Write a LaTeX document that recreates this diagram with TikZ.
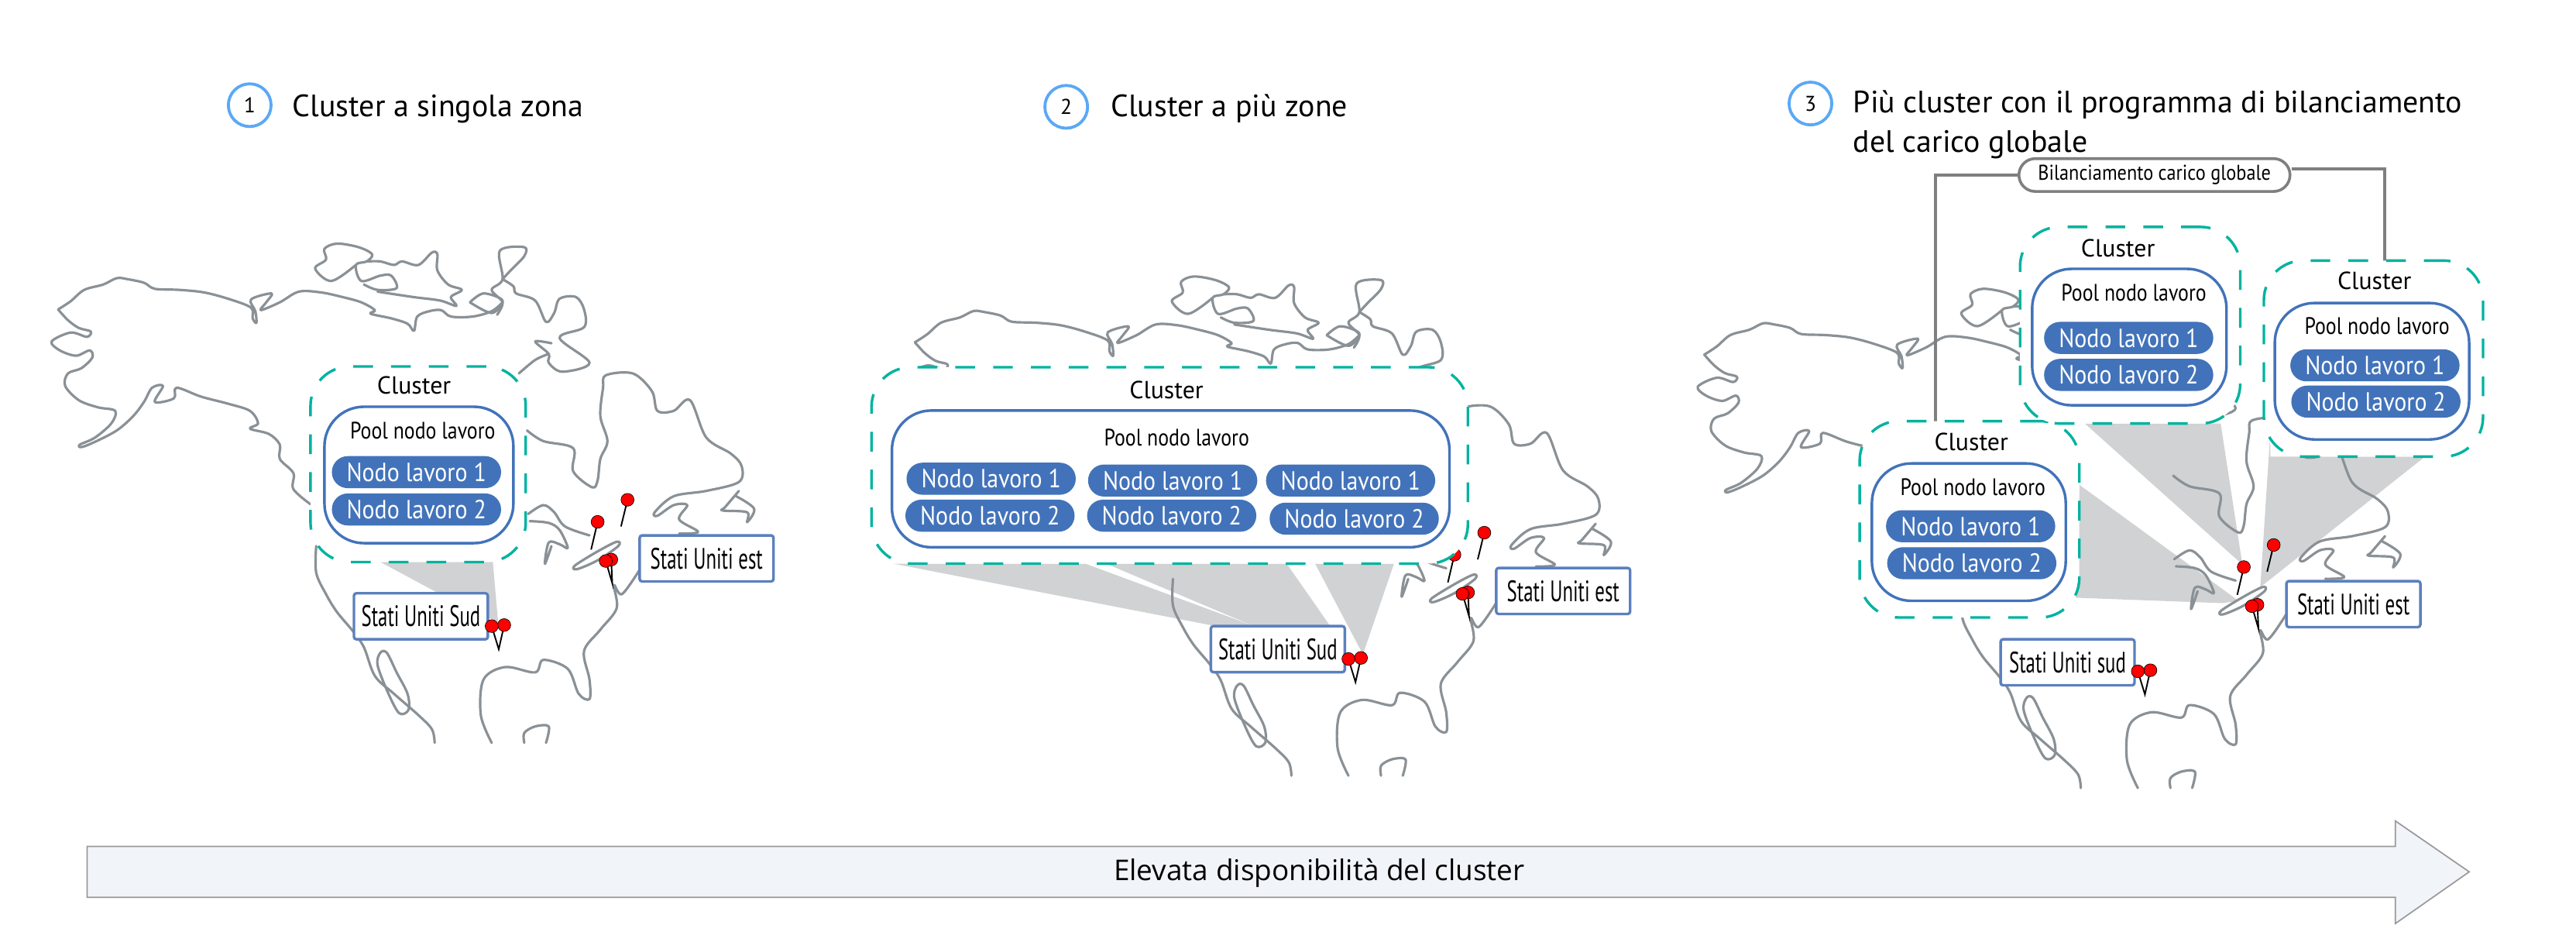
\documentclass[tikz,border=0pt]{standalone}
\usepackage{fontspec}
\setmainfont{PT Sans}
\newfontfamily\narrowfont[FakeStretch=.88]{PT Sans}
\newfontfamily\poolfont[FakeStretch=.84]{PT Sans}
\newfontfamily\tagfont[FakeStretch=.65]{PT Sans}
\newfontfamily\plainfont{Open Sans}
\definecolor{tealdash}{HTML}{00B39F}
\definecolor{poolblue}{HTML}{4273BA}
\definecolor{tagblue}{HTML}{5C80BE}
\definecolor{wedgegray}{HTML}{D0D2D3}
\definecolor{mapgray}{HTML}{8A9196}
\definecolor{ringblue}{HTML}{5BA8F5}
\definecolor{linkgray}{HTML}{7F7F7F}
\definecolor{arrowfill}{HTML}{F1F4F8}
\tikzset{
  mapline/.style={draw=mapgray, line width=1.5pt, line join=round, line cap=round},
  clusterbox/.style={draw=tealdash, fill=white, line width=1.6pt, rounded corners=24pt, dash pattern=on 12pt off 11pt},
  poolbox/.style={draw=poolblue, fill=white, line width=1.6pt, rounded corners=24pt},
  workerpill/.style={fill=poolblue, text=white, rounded corners=9.7pt, minimum width=103pt, minimum height=19.5pt, inner sep=0pt, font=\narrowfont\fontsize{16}{16}\selectfont},
  regiontag/.style={draw=tagblue, fill=white, line width=1.6pt, rounded corners=1.5pt, minimum width=81.5pt, minimum height=28pt, inner sep=0pt, font=\tagfont\fontsize{18}{18}\selectfont},
  clustertext/.style={inner sep=0pt, font=\fontsize{15}{15}\selectfont},
  pooltext/.style={inner sep=0pt, font=\poolfont\fontsize{14.5}{15}\selectfont},
  steptext/.style={anchor=base west, inner sep=0pt, font=\fontsize{18.8}{24}\selectfont},
  stepring/.style={circle, draw=ringblue, line width=1.8pt, minimum size=26pt, inner sep=0pt, font=\fontsize{13}{13}\selectfont},
  pinhead/.style={fill=red, draw=black, line width=.3pt},
  wedge/.style={fill=wedgegray}
}
% North America, drawn in its own small units
\newcommand{\landmap}{
\draw[mapline] plot[smooth,tension=.55] coordinates {(107,260) (130,237) (155,205) (190,190) (215,172) (235,175) (265,185) (285,202) (330,205) (375,212) (420,230) (462,255) (465,285) (472,298) (470,265) (462,232) (500,215) (490,240) (480,262) (515,240) (550,210) (590,212) (630,225) (665,240) (690,262) (682,272) (720,285) (750,300) (762,320) (768,280) (790,265) (812,262) (830,280) (870,280) (905,265) (925,240)};
\draw[mapline] plot[smooth,tension=.55] coordinates {(107,260) (125,290) (145,312) (167,322) (160,337) (130,325) (95,350) (110,375) (140,390) (165,375) (170,395) (150,425) (125,440) (120,475) (145,515) (180,535) (212,545) (205,580) (175,620) (147,640) (150,647) (175,632) (215,600) (245,560) (265,520) (280,480) (300,475) (285,520) (320,510) (325,480) (370,505) (420,525) (460,545) (475,580) (460,595) (495,610) (515,640) (515,680) (540,720) (540,765) (572,808)};
\draw[mapline] plot[smooth,tension=.55] coordinates {(582,925) (582,1000) (600,1060) (620,1110) (650,1165) (670,1210) (690,1290) (725,1340) (770,1400) (795,1440) (800,1478)};
% Baja
\draw[mapline] plot[smooth cycle,tension=.55] coordinates {(700,1225) (712,1225) (730,1280) (750,1340) (752,1385) (735,1395) (715,1340) (695,1260)};
% arctic islands
\draw[mapline] plot[smooth,tension=.55] coordinates {(655,135) (610,180) (580,145) (600,120) (597,90) (620,75) (660,85) (685,105) (675,125) (655,135) (665,180) (700,165) (720,165) (730,200) (695,205) (670,190)};
\draw[mapline] plot[smooth,tension=.55] coordinates {(675,125) (700,125) (725,135) (740,125) (770,135) (795,100) (805,105) (805,150) (825,190) (850,205) (830,225) (840,250) (810,235) (760,225) (695,210)};
\draw[mapline] plot[smooth,tension=.55] coordinates {(865,240) (890,215) (925,235) (905,270) (865,240)};
\draw[mapline] plot[smooth,tension=.55] coordinates {(925,175) (940,150) (965,110) (965,85) (920,95) (925,175) (905,205) (925,240) (915,275)};
\draw[mapline] plot[smooth,tension=.55] coordinates {(925,175) (945,195) (950,215) (985,235) (1005,295) (1020,270) (1030,230) (1060,225) (1075,260) (1075,310) (1030,340) (1085,410) (1035,435) (1010,410) (1010,385) (985,350) (1015,355)};
\draw[mapline] plot[smooth,tension=.55] coordinates {(1010,385) (985,402) (955,440)};
% Hudson Bay and the east
\draw[mapline] plot[smooth,tension=.55] coordinates {(970,600) (1000,630) (1055,650) (1055,715) (1090,760) (1100,740) (1105,680) (1118,630) (1105,560) (1110,480) (1115,445) (1165,440) (1200,490) (1210,545) (1240,545) (1270,515) (1300,620) (1345,665) (1365,700) (1360,745) (1300,770) (1240,785) (1205,830) (1210,840) (1240,810) (1265,810) (1250,850) (1285,885) (1250,890)};
\draw[mapline] plot[smooth,tension=.55] coordinates {(1360,770) (1335,815) (1330,825) (1375,830) (1375,858) (1388,820) (1355,785)};
% the lakes
\draw[mapline] plot[smooth,tension=.55] coordinates {(972,835) (1000,810) (1020,830) (1040,870) (1085,895)};
\draw[mapline] plot[smooth,tension=.55] coordinates {(975,855) (1010,860) (1030,880) (1045,930) (1030,920) (1010,915) (1003,975) (1015,925)};
\draw[mapline] plot[smooth cycle,tension=.55] coordinates {(1135,913) (1100,940) (1058,980) (1062,990) (1100,965) (1138,925)};
% east coast and the gulf
\draw[mapline] plot[smooth,tension=.55] coordinates {(1178,990) (1145,1060) (1130,1035) (1135,1100) (1105,1160) (1075,1220) (1085,1300) (1085,1355) (1065,1340) (1045,1270) (1000,1245) (985,1280) (930,1265) (890,1300) (885,1400) (905,1478)};
\draw[mapline] plot[smooth,tension=.55] coordinates {(965,1478) (965,1450) (985,1432) (1010,1432) (1005,1478)};
% pins
\draw[line width=.9pt] (1155,795) -- (1143,870);
\draw[line width=.9pt] (1100,857) -- (1088,935);
\draw[line width=.9pt] (1115,967) -- (1127,1030) -- (1125,963);
\foreach \pinx/\piny in {1155/795,1100/857,1125/963,1115/967}
  \draw[pinhead] (\pinx,\piny) ellipse [x radius=12, y radius=18];
}
% the two pins in the south stand in front of the tag
\newcommand{\southpins}{
\draw[line width=.9pt] (905,1150) -- (918,1215) -- (928,1147);
\foreach \pinx/\piny in {928/1147,905/1150}
  \draw[pinhead] (\pinx,\piny) ellipse [x radius=12, y radius=18];
}
\begin{document}
\begin{tikzpicture}[x=1pt,y=-1pt]
\useasboundingbox (0,0) rectangle (1568,571);
% The gray areas
\fill[wedge] (231.5,342) -- (300,342) -- (303.2,378.8) -- (267.9,361.5) -- cycle;
\fill[wedge] (543.9,343) -- (660.7,343) -- (761.7,380.4) -- (737,380.4) -- cycle;
\fill[wedge] (673.3,343) -- (783.2,343) -- (809.7,381) -- (761.7,380.4) -- cycle;
\fill[wedge] (800.5,343) -- (848.5,343) -- (829.6,398.2) -- cycle;
\fill[wedge] (1265.7,295) -- (1362.6,365.6) -- (1352.7,367) -- (1263.4,363.7) -- cycle;
\fill[wedge] (1269,257.7) -- (1351.7,257.7) -- (1364.9,343.5) -- cycle;
\fill[wedge] (1381.8,265) -- (1382,277.9) -- (1476,277.9) -- (1375.8,357.3) -- cycle;
% The maps
\begin{scope}[shift={(0,132)},x=.3307pt,y=-.2165pt] \landmap \end{scope}
\begin{scope}[shift={(521.5,152)},x=.3307pt,y=-.2165pt] \landmap \end{scope}
\begin{scope}[shift={(1002,159.5)},x=.3307pt,y=-.2165pt] \landmap \end{scope}
% 1st panel
\node[stepring] (ring1) at (152,64) {1};
\node[steptext] (step1) at (178,71) {Cluster a singola zona};
\node[clusterbox, minimum width=131pt, minimum height=119pt] (cluster1) at (254.5,282.5) {};
\node[poolbox, minimum width=115pt, minimum height=83pt] (pool1) at (255,289) {};
\node[clustertext] (clustertext1) at (252,234.4) {Cluster};
\node[pooltext] (pooltext1) at (257.3,262) {Pool nodo lavoro};
\node[workerpill] (worker1a) at (253.5,287.3) {Nodo lavoro 1};
\node[workerpill] (worker1b) at (253.5,310) {Nodo lavoro 2};
\node[regiontag] (south1) at (256.2,375) {Stati Uniti Sud};
\node[regiontag] (east1) at (430.1,339.8) {Stati Uniti est};
\begin{scope}[shift={(0,132)},x=.3307pt,y=-.2165pt] \southpins \end{scope}
% 2nd panel
\node[stepring] (ring2) at (649,65) {2};
\node[steptext] (step2) at (676,71) {Cluster a più zone};
\node[clusterbox, minimum width=363pt, minimum height=119.5pt] (cluster2) at (712,283.2) {};
\node[poolbox, minimum width=339.4pt, minimum height=83.2pt] (pool2) at (712.6,291.4) {};
\node[clustertext] (clustertext2) at (710,237.2) {Cluster};
\node[pooltext] (pooltext2) at (716.2,266.3) {Pool nodo lavoro};
\node[workerpill] (worker2a) at (603.3,291.3) {Nodo lavoro 1};
\node[workerpill] (worker2b) at (602.6,313.8) {Nodo lavoro 2};
\node[workerpill] (worker2c) at (713.8,292.4) {Nodo lavoro 1};
\node[workerpill] (worker2d) at (713.2,313.8) {Nodo lavoro 2};
\node[workerpill] (worker2e) at (822.1,292.4) {Nodo lavoro 1};
\node[workerpill] (worker2f) at (824.3,315.6) {Nodo lavoro 2};
\node[regiontag] (south2) at (777.8,395) {Stati Uniti Sud};
\node[regiontag] (east2) at (951.5,359.6) {Stati Uniti est};
\begin{scope}[shift={(521.5,152)},x=.3307pt,y=-.2165pt] \southpins \end{scope}
% 3rd panel
\node[stepring] (ring3) at (1102,63) {3};
\node[steptext, align=left] (step3) at (1127.8,92.5) {Più cluster con il programma di bilanciamento\\del carico globale};
\node[draw=linkgray, fill=white, line width=1.7pt, rounded corners=10pt, minimum width=165pt, minimum height=20pt, inner sep=0pt, font=\narrowfont\fontsize{13}{13}\selectfont] (balance) at (1311.4,106.5) {Bilanciamento carico globale};
\coordinate (balanceleft) at (1178,257);
\coordinate (balanceright) at (1451.5,159);
\draw[draw=linkgray, line width=1.7pt] (balance.west) -| (balanceleft);
\draw[draw=linkgray, line width=1.7pt] (balance.east |- 0,102.7) -| (balanceright);
\node[clusterbox, minimum width=133.7pt, minimum height=119.5pt] (cluster3a) at (1198.8,316) {};
\node[poolbox, minimum width=118pt, minimum height=83.6pt] (pool3a) at (1198.4,323.8) {};
\node[clustertext] (clustertext3a) at (1199.9,269) {Cluster};
\node[pooltext] (pooltext3a) at (1200.9,296.4) {Pool nodo lavoro};
\node[workerpill] (worker3a) at (1199.5,320.2) {Nodo lavoro 1};
\node[workerpill] (worker3b) at (1200.2,342.7) {Nodo lavoro 2};
\node[clusterbox, minimum width=134pt, minimum height=119.6pt] (cluster3b) at (1296.6,197.9) {};
\node[poolbox, minimum width=118.3pt, minimum height=83pt] (pool3b) at (1296.1,205.1) {};
\node[clustertext] (clustertext3b) at (1289.2,151.2) {Cluster};
\node[pooltext] (pooltext3b) at (1298.8,178.3) {Pool nodo lavoro};
\node[workerpill] (worker3c) at (1295.7,205.6) {Nodo lavoro 1};
\node[workerpill] (worker3d) at (1295.7,228.1) {Nodo lavoro 2};
\node[clusterbox, minimum width=133.4pt, minimum height=119.3pt] (cluster3c) at (1444.7,218.2) {};
\node[poolbox, minimum width=118.3pt, minimum height=83pt] (pool3c) at (1443.8,225.9) {};
\node[clustertext] (clustertext3c) at (1445.3,171) {Cluster};
\node[pooltext] (pooltext3c) at (1446.9,198.5) {Pool nodo lavoro};
\node[workerpill] (worker3e) at (1445.6,222.3) {Nodo lavoro 1};
\node[workerpill] (worker3f) at (1446.2,244.4) {Nodo lavoro 2};
\node[regiontag] (south3) at (1258.5,403) {Stati Uniti sud};
\node[regiontag] (east3) at (1432.5,367.6) {Stati Uniti est};
\begin{scope}[shift={(1002,159.5)},x=.3307pt,y=-.2165pt] \southpins \end{scope}
% The long arrow
\draw[draw=gray!80, fill=arrowfill, line width=.8pt] (53,515) -- (1458,515) -- (1458,499.5) -- (1503,530.5) -- (1458,562) -- (1458,546) -- (53,546) -- cycle;
\node[inner sep=0pt, font=\plainfont\fontsize{17.4}{17.4}\selectfont] (arrowtext) at (803,531) {Elevata disponibilità del cluster};
\end{tikzpicture}
\end{document}
